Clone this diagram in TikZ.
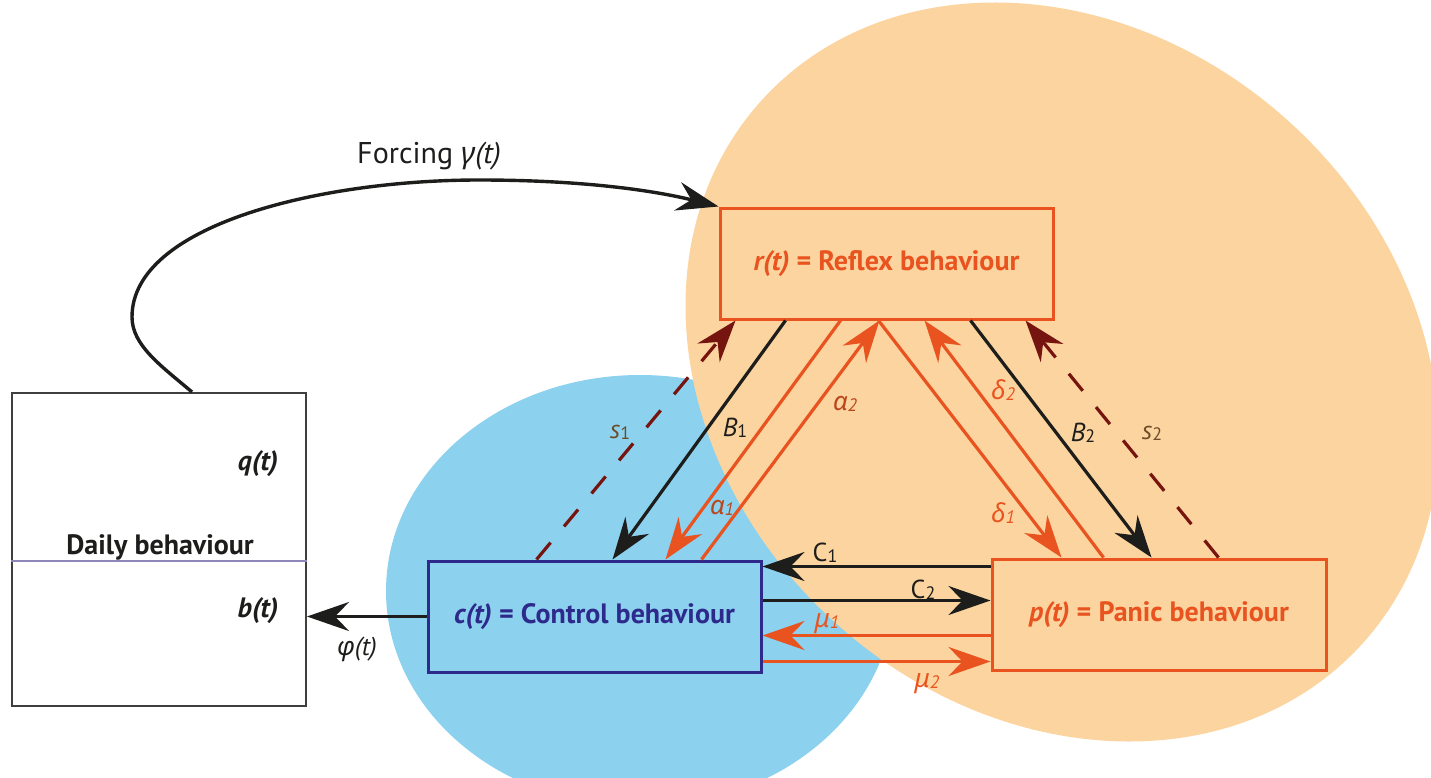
\documentclass[tikz,border=0pt]{standalone}
\usepackage{fontspec}
\setmainfont{PT Sans}
\newfontfamily\grk{Noto Sans}
\usetikzlibrary{arrows.meta,calc}

\definecolor{orfill}{HTML}{FBD49F}
\definecolor{orline}{HTML}{E9531F}
\definecolor{blfill}{HTML}{8CD1EE}
\definecolor{blline}{HTML}{2E2A8C}
\definecolor{dred}{HTML}{761510}
\definecolor{ink}{HTML}{1D1D1B}
\definecolor{brownlab}{HTML}{6E4C28}
\definecolor{alphalab}{HTML}{B8471E}
\definecolor{divline}{HTML}{8C87B8}

% label with a small subscript sitting near the baseline
\newcommand{\sublab}[2]{#1{\fontsize{18}{18}\selectfont\raisebox{-1pt}{#2}}}

\tikzset{
  bigtip/.style={-{Stealth[length=42pt,width=29pt,inset=14pt]}},
  flowblack/.style={draw=ink, line width=3.2pt, bigtip},
  floworange/.style={draw=orline, line width=3.2pt, bigtip},
  flowdash/.style={draw=dred, line width=3.2pt, dash pattern=on 22pt off 21pt, bigtip},
  statebox/.style={minimum width=333pt, minimum height=111pt, inner sep=0pt, line width=3pt,
    font=\fontsize{28}{32}\selectfont\bfseries},
  lbl/.style={font=\fontsize{26}{28}\selectfont\itshape, inner sep=0pt, text=ink},
  dailytext/.style={font=\fontsize{28}{32}\selectfont\bfseries, text=ink, inner sep=0pt},
}

\begin{document}
\begin{tikzpicture}[x=1pt, y=-1pt]
\useasboundingbox (0,0) rectangle (1431,778);
\clip (0,0) rectangle (1431,778);

% background regions
\fill[blfill] (640,591) ellipse [x radius=254pt, y radius=216pt];
\fill[orfill, shift={(1062,372)}, rotate=-42] (0,0) ellipse [x radius=405pt, y radius=338pt];

% daily behaviour box
\node[draw=ink!85, line width=2pt, minimum width=294pt, minimum height=313pt, inner sep=0pt, fill=white]
  (daily) at (159,549.5) {};
\draw[divline, line width=1.3pt] (daily.west |- 0,561) coordinate (divl) -- (daily.east |- 0,561) coordinate (divr);
\node[dailytext] (dailylab) at (160,547) {Daily behaviour};
\node[dailytext, font=\fontsize{28}{32}\selectfont\bfseries\itshape] (qlab) at (258,464) {q(t)};
\node[dailytext, font=\fontsize{28}{32}\selectfont\bfseries\itshape] (blab) at (258,611) {b(t)};

% state boxes
\node[statebox, draw=orline, fill=orfill, text=orline] (reflex) at (886.5,263.5)
  {\textit{r(t)} = Reflex behaviour};
\node[statebox, draw=blline, fill=blfill, text=blline] (control) at (594.5,616.5)
  {\textit{c(t)} = Control behaviour};
\node[statebox, minimum width=334pt, draw=orline, fill=orfill, text=orline] (panic) at (1159,614.5)
  {\textit{p(t)} = Panic behaviour};

% forcing from daily behaviour into reflex behaviour
\coordinate (fstart) at ($(daily.north)+(33,0)$);
\draw[draw=ink, line width=3.4pt, bigtip] (fstart)
  .. controls (160,365) and (132,345) .. (132,317)
  .. controls (132,225) and (320,180) .. (479,180)
  .. controls (590,180) and (660,192) .. (reflex.north west);
\node[font=\fontsize{30}{32}\selectfont, text=ink, inner sep=0pt] (forcinglab) at (429,156)
  {Forcing {\grk\itshape γ}\textit{(t)}};

% control -> daily
\draw[flowblack] (control.west) -- (control.west -| daily.east);
\node[lbl] (philab) at (357,649) {{\grk φ}(t)};

% reflex <-> control
\draw[flowdash] ($(control.north west)+(110,0)$) -- ($(reflex.south west)+(17,0)$);
\draw[flowblack] ($(reflex.south west)+(67,0)$) -- ($(control.north west)+(186,0)$);
\draw[floworange] ($(reflex.south west)+(122,0)$) -- ($(control.north west)+(239,0)$);
\draw[floworange] ($(control.north west)+(275,0)$) -- ($(reflex.south west)+(161,0)$);

% reflex <-> panic
\draw[floworange] ($(reflex.south west)+(160,0)$) -- ($(panic.north west)+(71,0)$);
\draw[floworange] ($(panic.north west)+(113,0)$) -- ($(reflex.south west)+(206,0)$);
\draw[flowblack] ($(reflex.south west)+(252,0)$) -- ($(panic.north west)+(161,0)$);
\draw[flowdash] ($(panic.north west)+(228,0)$) -- ($(reflex.south west)+(307,0)$);

% control <-> panic
\draw[flowblack] ($(panic.north west)+(0,9)$) -- ($(control.north east)+(0,7)$);
\draw[flowblack] ($(control.north east)+(0,41)$) -- ($(panic.north west)+(0,43)$);
\draw[floworange] ($(panic.north west)+(0,78)$) -- ($(control.north east)+(0,76)$);
\draw[floworange] ($(control.north east)+(0,102)$) -- ($(panic.north west)+(0,104)$);

% rate labels
\node[lbl, text=brownlab] (s1lab) at (620,432) {\sublab{s}{\upshape 1}};
\node[lbl] (b1lab) at (735,428) {\sublab{B}{\upshape 1}};
\node[lbl, text=alphalab] (a1lab) at (722,508) {\sublab{{\grk\itshape α}}{1}};
\node[lbl, text=alphalab] (a2lab) at (845,404) {\sublab{{\grk\itshape α}}{2}};
\node[lbl, text=orline] (d1lab) at (1003,513) {\sublab{{\grk\itshape δ}}{1}};
\node[lbl, text=orline] (d2lab) at (1003,390) {\sublab{{\grk\itshape δ}}{2}};
\node[lbl] (b2lab) at (1083,433) {\sublab{B}{\upshape 2}};
\node[lbl, text=brownlab] (s2lab) at (1152,433) {\sublab{s}{\upshape 2}};
\node[lbl, font=\fontsize{26}{28}\selectfont] (c1lab) at (825,553) {\sublab{C}{1}};
\node[lbl, font=\fontsize{26}{28}\selectfont] (c2lab) at (923,590) {\sublab{C}{2}};
\node[lbl, text=orline] (m1lab) at (827,624) {\sublab{{\grk\itshape μ}}{1}};
\node[lbl, text=orline] (m2lab) at (927,684) {\sublab{{\grk\itshape μ}}{2}};
\end{tikzpicture}
\end{document}
